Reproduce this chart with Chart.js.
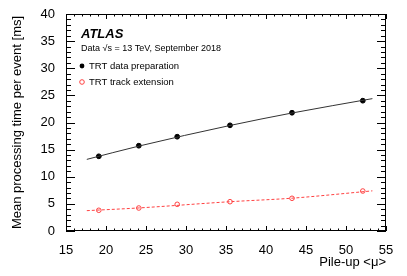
<!DOCTYPE html>
<html lang="en">
<head>
    <meta charset="UTF-8">
    <title>TRT processing time vs pile-up</title>
    <script src="https://cdn.jsdelivr.net/npm/chart.js"></script>
    <style>
        html, body { margin: 0; padding: 0; background: #fff; }
        #wrap { width: 407px; height: 276px; }
    </style>
</head>
<body>
    <div id="wrap"><canvas id="chart" width="407" height="276"></canvas></div>

    <script>
        // measured points
        const pileup = [19.1, 24.1, 28.9, 35.5, 43.25, 52.1];
        const dataPrep = [13.77, 15.72, 17.38, 19.48, 21.8, 24.02];
        const trackExt = [3.82, 4.24, 4.92, 5.4, 6.03, 7.37];

        // fit curves
        const fitX = [17.6, 24.1, 35.5, 43.25, 53.3];
        const dataPrepFit = [13.2, 15.65, 19.45, 21.75, 24.4];
        const trackExtFit = [3.75, 4.25, 5.4, 6.05, 7.4];

        const xTicks = [15, 20, 25, 30, 35, 40, 45, 50, 55];
        const yTicks = [0, 5, 10, 15, 20, 25, 30, 35, 40];

        const FONT = "'Liberation Sans', Arial, Helvetica, sans-serif";
        const RED = "#ff4040";

        const pts = (xs, ys) => xs.map((x, i) => ({ x: x, y: ys[i] }));

        // ROOT style frame with inside ticks on all four sides + text labels
        const rootFrame = {
            id: "rootFrame",
            afterDraw(chart) {
                const ctx = chart.ctx;
                const a = chart.chartArea;
                const xs = chart.scales.x, ys = chart.scales.y;
                ctx.save();
                ctx.strokeStyle = "#000";
                ctx.lineWidth = 1;
                ctx.strokeRect(a.left + 0.5, a.top + 0.5, a.right - a.left - 1, a.bottom - a.top - 1);
                ctx.beginPath();
                for (let v = xs.min; v <= xs.max; v++) {
                    const px = Math.round(xs.getPixelForValue(v)) + 0.5;
                    const len = v % 5 === 0 ? 5 : 2.5;
                    ctx.moveTo(px, a.bottom); ctx.lineTo(px, a.bottom - len);
                    ctx.moveTo(px, a.top); ctx.lineTo(px, a.top + len);
                }
                for (let v = ys.min; v <= ys.max; v++) {
                    const py = Math.round(ys.getPixelForValue(v)) + 0.5;
                    const len = v % 5 === 0 ? 9 : 5;
                    ctx.moveTo(a.left, py); ctx.lineTo(a.left + len, py);
                    ctx.moveTo(a.right, py); ctx.lineTo(a.right - len, py);
                }
                ctx.stroke();

                // labels
                ctx.fillStyle = "#000";
                ctx.textBaseline = "middle";
                ctx.textAlign = "left";
                ctx.font = "italic bold 13px " + FONT;
                ctx.fillText("ATLAS", 81, 34);
                ctx.font = "9px " + FONT;
                ctx.fillText("Data \u221As = 13 TeV, September 2018", 81, 48.5);
                ctx.font = "9.5px " + FONT;
                ctx.fillText("TRT data preparation", 89, 66);
                ctx.fillText("TRT track extension", 89, 82);

                ctx.beginPath();
                ctx.arc(82, 66, 2.4, 0, Math.PI * 2);
                ctx.fill();
                ctx.strokeStyle = RED;
                ctx.beginPath();
                ctx.arc(82, 82, 2.3, 0, Math.PI * 2);
                ctx.stroke();
                ctx.restore();
            }
        };

        new Chart(document.getElementById("chart"), {
            type: "scatter",
            data: {
                datasets: [
                    {
                        label: "fit prep", data: pts(fitX, dataPrepFit), showLine: true,
                        borderColor: "#333", borderWidth: 1, pointRadius: 0,
                        cubicInterpolationMode: "monotone"
                    },
                    {
                        label: "fit ext", data: pts(fitX, trackExtFit), showLine: true,
                        borderColor: RED, borderWidth: 1, borderDash: [3, 2], pointRadius: 0,
                        cubicInterpolationMode: "monotone"
                    },
                    {
                        label: "TRT data preparation", data: pts(pileup, dataPrep),
                        pointRadius: 2.4, pointBackgroundColor: "#000", pointBorderColor: "#000", pointBorderWidth: 1
                    },
                    {
                        label: "TRT track extension", data: pts(pileup, trackExt),
                        pointRadius: 2.3, pointBackgroundColor: "#fff", pointBorderColor: RED, pointBorderWidth: 1
                    }
                ]
            },
            options: {
                responsive: false,
                animation: false,
                layout: { padding: { left: 0, right: 21, top: 14, bottom: 0 } },
                plugins: { legend: { display: false }, tooltip: { enabled: false } },
                scales: {
                    x: {
                        type: "linear", min: 15, max: 55,
                        afterFit: s => { s.height = 45; },
                        afterBuildTicks: s => { s.ticks = xTicks.map(v => ({ value: v })); },
                        grid: { display: false }, border: { display: false },
                        ticks: { color: "#000", font: { family: FONT, size: 13 }, padding: 4, maxRotation: 0 },
                        title: {
                            display: true, text: "Pile-up <\u03BC>", align: "end", color: "#000",
                            font: { family: FONT, size: 13 }, padding: { top: 0, bottom: 6 }
                        }
                    },
                    y: {
                        min: 0, max: 40,
                        afterFit: s => { s.width = 66; },
                        afterBuildTicks: s => { s.ticks = yTicks.map(v => ({ value: v })); },
                        grid: { display: false }, border: { display: false },
                        ticks: { color: "#000", font: { family: FONT, size: 13 }, padding: 3 },
                        title: {
                            display: true, text: "Mean processing time per event [ms]", color: "#000",
                            font: { family: FONT, size: 13 }, padding: { top: 10, bottom: 0 }
                        }
                    }
                }
            },
            plugins: [rootFrame]
        });
    </script>
</body>
</html>
